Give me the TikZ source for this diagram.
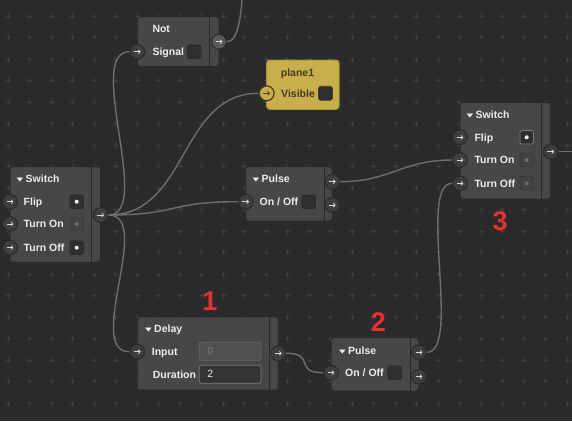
\documentclass[tikz,border=0pt]{standalone}
\usepackage{fontspec}
\setmainfont{Liberation Sans}
\newfontfamily\symfont{DejaVu Sans}
\usepackage{xcolor}
\usepackage{graphicx}
\usepackage{tikz}
\usetikzlibrary{arrows.meta,calc}
\definecolor{CanvasGray}{HTML}{2B2B2B}
\definecolor{GridGray}{HTML}{414141}
\definecolor{BodyGray}{HTML}{474747}
\definecolor{EdgeGray}{HTML}{2A2A2A}
\definecolor{PortGray}{HTML}{3E3E3E}
\definecolor{PortLight}{HTML}{595959}
\definecolor{ArrowGray}{HTML}{D8D8D8}
\definecolor{LabelWhite}{HTML}{EDEDED}
\definecolor{BoxDark}{HTML}{2F2F2F}
\definecolor{MutedFill}{HTML}{434343}
\definecolor{MutedEdge}{HTML}{3A3A3A}
\definecolor{MutedDot}{HTML}{686868}
\definecolor{FocusEdge}{HTML}{7A7A7A}
\definecolor{WireGray}{HTML}{6E6E6E}
\definecolor{PlaneYellow}{HTML}{C8AF4B}
\definecolor{PlaneEdge}{HTML}{A8923A}
\definecolor{PlaneText}{HTML}{453D22}
\definecolor{FieldText}{HTML}{7A7A7A}
\definecolor{MarkRed}{HTML}{E8312D}
\newcommand{\caret}{\raisebox{1.5pt}{\scalebox{1}[0.62]{\symfont\fontsize{8.6}{9}\selectfont ▼}}\hspace{2.4pt}}

\begin{document}
\begin{tikzpicture}[x=1pt,y=-1pt,
  nodebox/.style={draw=EdgeGray,line width=1pt,fill=BodyGray,rounded corners=3pt,inner sep=0pt},
  planebox/.style={nodebox,fill=PlaneYellow,draw=PlaneEdge},
  divider/.style={EdgeGray,line width=0.9pt},
  headtext/.style={anchor=base west,yshift=-3.8pt,inner sep=0pt,text=LabelWhite,font=\bfseries\fontsize{10.5}{12}\selectfont},
  rowlabel/.style={headtext},
  portbase/.style={circle,draw=EdgeGray,line width=1pt,fill=PortGray,minimum size=14.8pt,inner sep=0pt},
  port/.style={portbase,path picture={\draw[ArrowGray,line width=0.8pt,-{Straight Barb[length=1.8pt,width=3.8pt]}]
      ([xshift=-3.4pt]path picture bounding box.center) -- ([xshift=3.4pt]path picture bounding box.center);}},
  planeport/.style={portbase,fill=PlaneYellow,draw=PlaneText,line width=1.2pt,path picture={\draw[PlaneText,line width=0.85pt,-{Straight Barb[length=1.8pt,width=3.8pt]}]
      ([xshift=-3.4pt]path picture bounding box.center) -- ([xshift=3.4pt]path picture bounding box.center);}},
  checkbox/.style={draw=EdgeGray,line width=0.8pt,fill=BoxDark,rounded corners=2pt,minimum size=13.5pt,inner sep=0pt},
  checkon/.style={checkbox,path picture={\fill[LabelWhite] (path picture bounding box.center) circle (2pt);}},
  checkoff/.style={checkbox,fill=MutedFill,draw=MutedEdge,path picture={\fill[MutedDot] (path picture bounding box.center) circle (2pt);}},
  checkfocus/.style={checkon,draw=FocusEdge},
  fieldbase/.style={rounded corners=1.5pt,line width=0.8pt,minimum height=18pt,inner xsep=8pt,inner ysep=0pt,text width=45.7pt,align=left,font=\fontsize{10.5}{12}\selectfont},
  fieldoff/.style={fieldbase,fill=BodyGray!95!white,draw=FieldText!60!BodyGray,text=FieldText},
  fieldon/.style={fieldbase,fill=BoxDark!85!BodyGray,draw=FieldText,text=LabelWhite},
  wire/.style={WireGray,line width=1.4pt},
  gridmark/.style={GridGray,line width=0.8pt},
  marknum/.style={text=MarkRed,font=\bfseries\fontsize{27}{27}\selectfont,inner sep=0pt}]

  \useasboundingbox (0,0) rectangle (572,421);
  \clip (0,0) rectangle (572,421);
  \fill[CanvasGray] (0,0) rectangle (572,421);

  % canvas grid
  \foreach \gx in {-4,...,22}
    \foreach \gy in {0,...,19}
      \draw[gridmark,shift={({94+21.5*\gx},{16+21.5*\gy})}] (-2.5,0) -- (2.5,0) (0,-2.5) -- (0,2.5);

  % switch, left
  \node[nodebox,minimum width=90.7pt,minimum height=95.6pt] (sw1) at (55.35,214.5) {};
  \draw[divider] ([xshift=-10pt]sw1.north east) -- ([xshift=-10pt]sw1.south east);
  \node[headtext] (sw1-head) at (16.5,179) {\caret Switch};
  \node[rowlabel] (sw1-flip-l) at (23.5,201.7) {Flip};
  \node[rowlabel] (sw1-on-l) at (23.5,224) {Turn On};
  \node[rowlabel] (sw1-off-l) at (23.5,247.7) {Turn Off};
  \node[checkon] (sw1-flip-c) at (76.7,201.7) {};
  \node[checkoff] (sw1-on-c) at (76.7,224) {};
  \node[checkon] (sw1-off-c) at (76.7,247.7) {};
  \node[port] (sw1-flip) at (10,201.7) {};
  \node[port] (sw1-on) at (10,224) {};
  \node[port] (sw1-off) at (10,247.7) {};
  \node[port] (sw1-out) at (100.7,215) {};

  % not
  \node[nodebox,minimum width=81.7pt,minimum height=50pt] (not) at (178.15,41.7) {};
  \draw[divider] ([xshift=-9.7pt]not.north east) -- ([xshift=-9.7pt]not.south east);
  \node[headtext] (not-head) at (152.3,29) {Not};
  \node[rowlabel] (not-sig-l) at (152.3,51.7) {Signal};
  \node[checkbox] (not-sig-c) at (194.3,51.7) {};
  \node[port] (not-sig) at (137.3,51.7) {};
  \node[port,fill=PortLight] (not-out) at (219,41.7) {};
  \coordinate (offtop) at (260,-80);

  % plane1
  \node[planebox,minimum width=72.3pt,minimum height=49.3pt] (plane) at (302.85,84.65) {};
  \node[headtext,text=PlaneText] (plane-head) at (280.7,72.7) {plane1};
  \node[rowlabel,text=PlaneText] (plane-vis-l) at (281,93.3) {Visible};
  \node[checkbox,minimum size=14pt,rounded corners=2.5pt,draw=PlaneText] (plane-vis-c) at (325.5,93.3) {};
  \node[planeport] (plane-vis) at (266.7,93.3) {};

  % pulse, top
  \node[nodebox,minimum width=86.6pt,minimum height=54.3pt] (pu1) at (289,193.85) {};
  \draw[divider] ([xshift=-8.3pt]pu1.north east) -- ([xshift=-8.3pt]pu1.south east);
  \node[headtext] (pu1-head) at (252.5,179) {\caret Pulse};
  \node[rowlabel] (pu1-onoff-l) at (259.5,201.7) {On / Off};
  \node[checkbox] (pu1-onoff-c) at (308.8,201.7) {};
  \node[port] (pu1-onoff) at (245.7,201.7) {};
  \node[port] (pu1-out1) at (332.3,181.7) {};
  \node[port] (pu1-out2) at (332.3,205) {};

  % switch, right
  \node[nodebox,minimum width=90.7pt,minimum height=96.7pt] (sw2) at (505.35,150.65) {};
  \draw[divider] ([xshift=-9.7pt]sw2.north east) -- ([xshift=-9.7pt]sw2.south east);
  \node[headtext] (sw2-head) at (466.5,115) {\caret Switch};
  \node[rowlabel] (sw2-flip-l) at (474.3,137.3) {Flip};
  \node[rowlabel] (sw2-on-l) at (474.3,160) {Turn On};
  \node[rowlabel] (sw2-off-l) at (474.3,183.3) {Turn Off};
  \node[checkfocus] (sw2-flip-c) at (526.7,137.3) {};
  \node[checkoff] (sw2-on-c) at (526.7,160) {};
  \node[checkoff] (sw2-off-c) at (526.7,183.3) {};
  \node[port] (sw2-flip) at (460,137.3) {};
  \node[port] (sw2-on) at (460,160) {};
  \node[port] (sw2-off) at (460,183.3) {};
  \node[port] (sw2-out) at (550.7,151.7) {};
  \coordinate (offright) at (580,151.7);

  % delay
  \node[nodebox,minimum width=141pt,minimum height=73.3pt] (delay) at (207.8,353.35) {};
  \draw[divider] ([xshift=-9pt]delay.north east) -- ([xshift=-9pt]delay.south east);
  \node[headtext] (delay-head) at (145,329) {\caret Delay};
  \node[rowlabel] (delay-in-l) at (151.7,351.7) {Input};
  \node[rowlabel] (delay-dur-l) at (152.7,374.3) {Duration};
  \node[fieldoff] (delay-in-f) at (230.15,351.2) {0};
  \node[fieldon] (delay-dur-f) at (230.15,374.2) {2};
  \node[port] (delay-in) at (137.3,351.7) {};
  \node[port] (delay-out) at (278.3,353.3) {};

  % pulse, bottom
  \node[nodebox,minimum width=88pt,minimum height=53.3pt] (pu2) at (375,364.35) {};
  \draw[divider] ([xshift=-9pt]pu2.north east) -- ([xshift=-9pt]pu2.south east);
  \node[headtext] (pu2-head) at (339,350.7) {\caret Pulse};
  \node[rowlabel] (pu2-onoff-l) at (345,372.7) {On / Off};
  \node[checkbox] (pu2-onoff-c) at (394.7,372.7) {};
  \node[port] (pu2-onoff) at (331,372.7) {};
  \node[port] (pu2-out1) at (419,352.3) {};
  \node[port] (pu2-out2) at (419,376.7) {};

  % step numbers
  \node[marknum] (mark1) at (210,301.5) {1};
  \node[marknum] (mark2) at (378.3,321.7) {2};
  \node[marknum] (mark3) at (500,221.7) {3};

  % wires
  \draw[wire] (sw1-out.east) .. controls +(45,0) and +(-45,0) .. (not-sig.west);
  \draw[wire] (sw1-out.east) .. controls +(80,0) and +(-80,0) .. (plane-vis.west);
  \draw[wire] (sw1-out.east) .. controls +(70,0) and +(-70,0) .. (pu1-onoff.west);
  \draw[wire] (sw1-out.east) .. controls +(45,0) and +(-45,0) .. (delay-in.west);
  \draw[wire] (not-out.east) .. controls +(25,0) and +(-25,0) .. (offtop);
  \draw[wire] (pu1-out1.east) .. controls +(50,0) and +(-50,0) .. (sw2-on.west);
  \draw[wire] (pu2-out1.east) .. controls +(35,0) and +(-35,0) .. (sw2-off.west);
  \draw[wire] (delay-out.east) .. controls +(30,0) and +(-30,0) .. (pu2-onoff.west);
  \draw[wire] (sw2-out.east) -- (offright);
\end{tikzpicture}
\end{document}
